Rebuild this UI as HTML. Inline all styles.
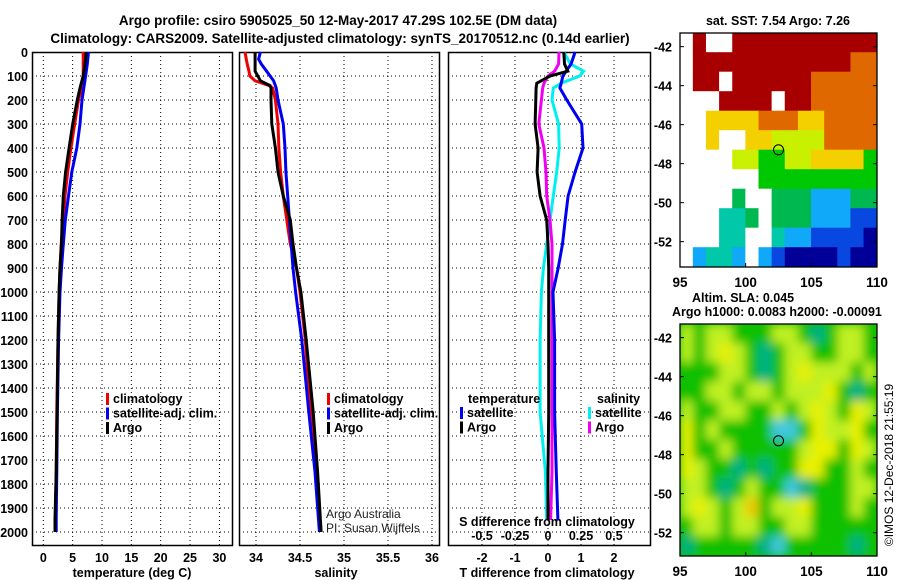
<!DOCTYPE html>
<html><head><meta charset="utf-8">
<style>
html,body{margin:0;padding:0;background:#fff;}
svg{display:block;font-family:"Liberation Sans",Arial,sans-serif;}
.b{font-weight:bold;font-size:12.5px;}
.n{font-weight:normal;font-size:12px;}
</style></head>
<body>
<svg id="chart" width="900" height="580" viewBox="0 0 900 580">
<g id="titles">
<text x="338" y="25" text-anchor="middle" class="b" style="font-size:13.5px">Argo profile: csiro 5905025_50 12-May-2017 47.29S 102.5E (DM data)</text>
<text x="340" y="43" text-anchor="middle" class="b" style="font-size:13.5px">Climatology: CARS2009. Satellite-adjusted climatology: synTS_20170512.nc (0.14d earlier)</text>
</g>
<g id="plots"></g>
</svg>
<script>
// ---- depth grid
const depthTicks = [0,100,200,300,400,500,600,700,800,900,1000,1100,1200,1300,1400,1500,1600,1700,1800,1900,2000];
// ---- temperature panel data (depth, value)
const tDepth = [0,50,100,150,200,300,400,500,600,700,800,900,1000,1200,1500,1750,1950,2000];
const tClim = [6.8,6.8,6.8,6.5,6.0,5.35,4.7,4.15,3.7,3.4,3.05,2.85,2.7,2.5,2.3,2.2,2.05,2.0];
const tSat = [7.7,7.5,7.2,6.9,6.6,6.25,5.7,4.85,4.3,3.75,3.4,3.1,2.85,2.6,2.4,2.3,2.2,2.2];
const tArgo = [7.3,7.1,6.8,6.25,5.8,5.0,4.4,3.8,3.4,3.2,3.1,2.85,2.7,2.5,2.35,2.2,2.0,2.0];
const tTicks = [0,5,10,15,20,25,30];
// ---- salinity panel data
const sDepth = [0,30,50,80,100,120,140,150,200,300,400,500,600,700,800,900,1000,1200,1500,1750,2000];
const sClim = [33.875,33.89,33.9,33.92,33.93,33.99,34.15,34.19,34.22,34.25,34.26,34.28,34.31,34.35,34.39,34.46,34.5,34.56,34.62,34.68,34.74];
const sSat = [34.05,34.03,34.06,34.12,34.16,34.2,34.22,34.23,34.25,34.31,34.33,34.34,34.36,34.38,34.4,34.42,34.45,34.52,34.6,34.67,34.72];
const sArgo = [33.99,33.99,33.99,33.99,34.02,34.05,34.16,34.17,34.17,34.18,34.22,34.25,34.31,34.39,34.42,34.46,34.51,34.57,34.65,34.7,34.74];
const sTicks = [34,34.5,35,35.5,36];
const sTickLabels = ["34","34.5","35","35.5","36"];
// ---- difference panel data
const dDepth = [0,50,80,100,130,150,200,300,400,500,600,700,800,900,1000,1200,1500,1750,1950];
const dTSat = [0.82,0.7,0.55,0.45,0.4,0.36,0.57,1.02,1.06,0.82,0.61,0.52,0.44,0.31,0.15,0.2,0.2,0.25,0.3];
const dTArgo = [0.48,0.5,0.6,0.06,-0.34,-0.36,-0.37,-0.39,-0.3,-0.33,-0.24,-0.04,0,0.02,0.02,0.02,0.02,0.0,0.0];
const dSSat = [0.12,0.17,0.27,0.24,0.1,0.04,0.03,0.08,0.085,0.066,0.04,0.015,-0.01,-0.035,-0.05,-0.06,-0.06,-0.02,-0.01];
const dSArgo = [0.083,0.08,0.05,0.0,-0.03,-0.04,-0.05,-0.07,-0.03,-0.015,-0.01,0.015,0.03,0.03,0.03,0.03,0.03,0.03,0.02];
const dTTicks = [-2,-1,0,1,2];
const dSTicks = [-0.5,-0.25,0,0.25,0.5];
const dSTickLabels = ["-0.5","-0.25","0","0.25","0.5"];
// ---- maps
const lonTicks = [95,100,105,110];
const latTicks = [-42,-44,-46,-48,-50,-52];
const sstRows = [
"WRWWRRRRRRRRRRR",
"WRRRRRRRRRRRROO",
"WRRWRRRRRROOOOO",
"WWWRRRRWRROOOOO",
"WWYYYYOOOYYOOOO",
"WWYWWYYyyyyOOOO",
"WWWWyyGGyyYYYYG",
"WWWWWWGGGGGGGGG",
"WWWWgWWgggCCCgg",
"WWWTTgWgggCCCBB",
"WWWTTWWTCCBBBBN",
"WCTTCWCBNNNNBNN"];
const slaRows = [
"yGyyGGGyyGTGyyG",
"yGyYyGTGyyGGyyG",
"GGGyyGTGyYyyyGy",
"GGyyGyyGyyyYGTG",
"yGGyyGGyGyYyGYy",
"YGyGGGGCCGYyyYG",
"YGGyGGGGGyYYGYy",
"YyGGTGTGGYYGGyG",
"yyGTGyGGCTGGGyy",
"yYyGyOGyyYGGGyG",
"GyyGyyGGyyGGGGG",
"TGGGGGTCGGGGGTG"];
const floatLon = 102.5, floatLat = -47.29;

const NS="http://www.w3.org/2000/svg";
const root=document.getElementById('plots');
function mk(tag,attrs,parent){const e=document.createElementNS(NS,tag);for(const k in attrs)e.setAttribute(k,attrs[k]);(parent||root).appendChild(e);return e;}
function txt(x,y,s,anchor,cls,parent,extra){const e=mk('text',Object.assign({x:x,y:y,'text-anchor':anchor||'start','class':cls||'b'},extra||{}),parent);e.textContent=s;return e;}
const Y0=52, Ybot=545;
function yD(d){return Y0+d*0.24;}

function panel(name,x0,x1,xs,gridVals){
  const g=mk('g',{});
  
  
  depthTicks.forEach(d=>{ if(d>0) mk('line',{x1:x0,x2:x1,y1:yD(d),y2:yD(d),stroke:'#000','stroke-width':1,'stroke-dasharray':'1,3'},g);});
  gridVals.forEach(v=>{mk('line',{x1:xs(v),x2:xs(v),y1:Y0,y2:Ybot,stroke:'#000','stroke-width':1,'stroke-dasharray':'1,3'},g);});
  mk('rect',{x:x0+0.5,y:Y0+0.5,width:x1-x0,height:Ybot-Y0,fill:'none',stroke:'#000','stroke-width':1.5},g);
  return g;
}
function series(g,name,depths,vals,xs,color){
  const pts=depths.map((d,i)=>xs(vals[i]).toFixed(1)+','+yD(d).toFixed(1)).join(' ');
  const p=mk('polyline',{points:pts,fill:'none',stroke:color,'stroke-width':3,'stroke-linejoin':'miter'},g);
  
  
}
function legend(g,x,y,items){
  items.forEach((it,i)=>{
    mk('rect',{x:x,y:y+i*14.5-10,width:3,height:12,fill:it[1]},g);
    const t=txt(x+7,y+i*14.5,it[0],'start','b',g);
    
    
  });
}

// Panel 1 temperature
const xT=v=>43.3+v*5.87;
const g1=panel('temperature-panel',32,232,xT,tTicks);
series(g1,'temp-climatology-line',tDepth,tClim,xT,'#f00000');
series(g1,'temp-satellite-line',tDepth,tSat,xT,'#0000f0');
series(g1,'temp-argo-line',tDepth,tArgo,xT,'#000');
tTicks.forEach(v=>txt(xT(v),562,String(v),'middle','b',g1));
depthTicks.forEach(d=>txt(28,yD(d)+5,String(d),'end','b',g1));
const xt1=txt(132,577,'temperature (deg C)','middle','b',g1);


legend(g1,106,403,[['climatology','#f00000'],['satellite-adj. clim.','#0000f0'],['Argo','#000']]);

// Panel 2 salinity
const xS=v=>256+(v-34)*88;
const g2=panel('salinity-panel',239,439,xS,sTicks);
series(g2,'sal-climatology-line',sDepth,sClim,xS,'#f00000');
series(g2,'sal-satellite-line',sDepth,sSat,xS,'#0000f0');
series(g2,'sal-argo-line',sDepth,sArgo,xS,'#000');
sTicks.forEach((v,i)=>txt(xS(v),562,sTickLabels[i],'middle','b',g2));
const xt2=txt(336,577,'salinity','middle','b',g2);


legend(g2,327,403,[['climatology','#f00000'],['satellite-adj. clim.','#0000f0'],['Argo','#000']]);
txt(326,518,'Argo Australia','start','n',g2,{style:'fill:#222'});
txt(326,532,'PI: Susan Wijffels','start','n',g2,{style:'fill:#222'});

// Panel 3 differences
const xDT=v=>548+v*33;
const xDS=v=>548+v*132;
const g3=panel('difference-panel',448,650,xDT,dTTicks);
series(g3,'sdiff-satellite-line',dDepth,dSSat,xDS,'#00f0f0');
series(g3,'sdiff-argo-line',dDepth,dSArgo,xDS,'#f000f0');
series(g3,'tdiff-satellite-line',dDepth,dTSat,xDT,'#0000f0');
series(g3,'tdiff-argo-line',dDepth,dTArgo,xDT,'#000');
dTTicks.forEach(v=>txt(xDT(v),562,String(v),'middle','b',g3));
dSTicks.forEach((v,i)=>txt(xDS(v),540,dSTickLabels[i],'middle','b',g3));
txt(547,526,'S difference from climatology','middle','b',g3);
const xt3=txt(547,577,'T difference from climatology','middle','b',g3);


txt(468,403,'temperature','start','b',g3);
legend(g3,460,417,[['satellite','#0000f0'],['Argo','#000']]);
txt(597,403,'salinity','start','b',g3);
legend(g3,588,417,[['satellite','#00f0f0'],['Argo','#f000f0']]);

// Maps
const cmap={R:'#a80000',O:'#e06800',o:'#f09000',Y:'#f4d000',y:'#c8f000',G:'#00c800',g:'#00b850',T:'#00c8a8',C:'#10a8f8',B:'#0848e0',N:'#000098',W:'#ffffff'};
const cmap2={G:'#10c000',y:'#c0f020',Y:'#e8f000',O:'#f0c800',T:'#00b088',C:'#40c8e0'};
function map(name,top,bottom,lat0,rows,colors,blur){
  const x0=680,x1=877;
  const lonS=v=>x0+(v-95)*(x1-x0)/15;
  const latS=v=>top+(lat0-v)*19.5;
  const g=mk('g',{});
  
  
  const cid='clip'+name;
  const cp=mk('clipPath',{id:cid},g);mk('rect',{x:x0,y:top,width:x1-x0,height:bottom-top},cp);
  const cells=mk('g',{'clip-path':'url(#'+cid+')'},g);
  if(blur) mk('rect',{x:x0,y:top,width:x1-x0,height:bottom-top,fill:colors.G},cells);
  const inner=mk('g',blur?{filter:'url(#bl)'}:{},cells);
  const ch=(bottom-top)/rows.length;
  rows.forEach((r,ri)=>{[...r].forEach((c,ci)=>{
    mk('rect',{x:lonS(95+ci)-0.3,y:top+ri*ch-0.3,width:(x1-x0)/15+0.6,height:ch+0.6,fill:colors[c]},inner);
  });});
  mk('rect',{x:x0,y:top,width:x1-x0,height:bottom-top,fill:'none',stroke:'#000','stroke-width':1.3},g);
  latTicks.forEach(v=>{const yy=latS(v);
    mk('line',{x1:x0,x2:x0+4,y1:yy,y2:yy,stroke:'#000'},g);mk('line',{x1:x1-4,x2:x1,y1:yy,y2:yy,stroke:'#000'},g);
    txt(x0-8,yy+5,String(v),'end','b',g);});
  lonTicks.forEach(v=>{mk('line',{x1:lonS(v),x2:lonS(v),y1:bottom,y2:bottom-4,stroke:'#000'},g);
    txt(lonS(v),bottom+20,String(v),'middle','b',g,{style:'font-size:13.5px'});});
  const m=mk('circle',{cx:lonS(floatLon),cy:latS(floatLat),r:5,fill:'none',stroke:'#000','stroke-width':1},g);
  
  
  return g;
}
const defs=mk('defs',{});const f=mk('filter',{id:'bl',x:'-10%',y:'-10%',width:'120%',height:'120%'},defs);mk('feGaussianBlur',{stdDeviation:5},f);
map('sst-map',33,267,-41.3,sstRows,cmap,false);
map('sla-map',324,556,-41.3,slaRows,cmap2,true);
txt(778,25,'sat. SST: 7.54 Argo: 7.26','middle','b');
txt(692,302,'Altim. SLA: 0.045','start','b');
txt(672,316,'Argo h1000: 0.0083 h2000: -0.00091','start','b');
const cr=txt(0,0,'©IMOS 12-Dec-2018 21:55:19','middle','n',root,{transform:'translate(893,465) rotate(-90)'});


</script>
</body></html>
